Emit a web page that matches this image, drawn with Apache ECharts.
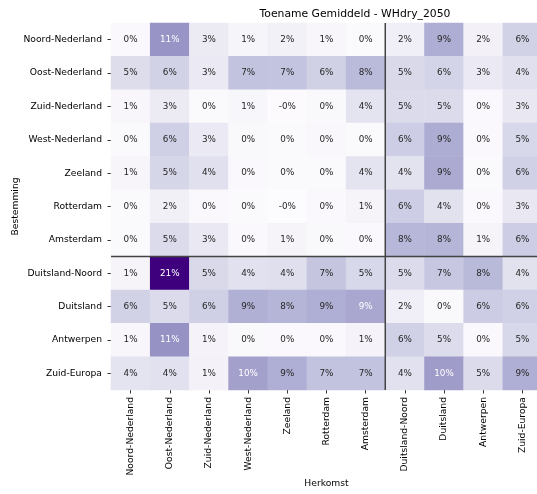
<!DOCTYPE html>
<html>
<head>
<meta charset="utf-8">
<script src="https://cdn.jsdelivr.net/npm/echarts@6/dist/echarts.min.js"></script>
<style>html,body{margin:0;padding:0;background:#fff;}#c{width:537px;height:494px;}</style>
</head>
<body>
<div id="c"></div>
<script>
// Herkomst (x) and Bestemming (y) categories
const herkomst = ['Noord-Nederland','Oost-Nederland','Zuid-Nederland','West-Nederland','Zeeland','Rotterdam','Amsterdam','Duitsland-Noord','Duitsland','Antwerpen','Zuid-Europa'];
const bestemming = ['Noord-Nederland','Oost-Nederland','Zuid-Nederland','West-Nederland','Zeeland','Rotterdam','Amsterdam','Duitsland-Noord','Duitsland','Antwerpen','Zuid-Europa'];

// Percent increase, one row per Bestemming
const rowNoordNederland  = [0.2, 11.0, 2.8, 0.9, 1.7, 0.6, 0.1, 2.1, 9.0, 1.6, 5.8];
const rowOostNederland   = [4.7, 5.8, 2.9, 7.2, 7.1, 5.9, 7.9, 5.2, 5.6, 2.9, 4.2];
const rowZuidNederland   = [0.6, 2.8, 0.1, 0.7, -0.2, 0.3, 3.8, 4.9, 4.9, 0.2, 3.1];
const rowWestNederland   = [0.1, 6.1, 2.9, 0.3, 0.1, 0.4, 0.1, 6.2, 9.1, 0.2, 5.3];
const rowZeeland         = [0.8, 5.4, 4.2, 0.2, 0.1, 0.1, 3.8, 3.9, 9.2, 0.1, 6.0];
const rowRotterdam       = [0.1, 1.8, 0.2, 0.1, -0.3, 0.2, 1.0, 6.2, 4.0, 0.2, 3.1];
const rowAmsterdam       = [0.1, 4.9, 3.0, 0.2, 1.0, 0.3, 0.2, 8.2, 8.4, 1.0, 6.2];
const rowDuitslandNoord  = [1.0, 21.2, 5.2, 4.1, 4.3, 7.0, 5.3, 5.0, 6.8, 8.0, 4.0];
const rowDuitsland       = [5.8, 5.0, 6.1, 8.8, 8.4, 8.9, 9.49, 2.2, 0.3, 6.3, 6.0];
const rowAntwerpen       = [0.6, 11.2, 1.2, 0.3, 0.2, 0.2, 1.2, 6.0, 4.8, 0.2, 5.3];
const rowZuidEuropa      = [3.8, 4.1, 1.4, 10.0, 8.9, 7.2, 7.2, 4.1, 10.3, 4.9, 8.9];

const rows = [rowNoordNederland,rowOostNederland,rowZuidNederland,rowWestNederland,rowZeeland,rowRotterdam,rowAmsterdam,rowDuitslandNoord,rowDuitsland,rowAntwerpen,rowZuidEuropa];
const splitAfter = 'Amsterdam';

const purples = ['#fcfbfd','#efedf5','#dadaeb','#bcbddc','#9e9ac8','#807dba','#6a51a3','#54278f','#3f007d'];

let vmin = Infinity, vmax = -Infinity;
rows.forEach(r => r.forEach(v => { vmin = Math.min(vmin, v); vmax = Math.max(vmax, v); }));

function hex(h){ return [1,3,5].map(i => parseInt(h.substr(i,2),16)); }
function colorAt(v){
  let f = (v - vmin) / (vmax - vmin); f = Math.max(0, Math.min(1, f));
  const p = f * (purples.length - 1); const i = Math.min(Math.floor(p), purples.length - 2); const t = p - i;
  const a = hex(purples[i]), b = hex(purples[i+1]);
  return a.map((c,k) => c + (b[k]-c)*t);
}
function lum(rgb){
  const l = rgb.map(c => { c = c/255; return c <= 0.03928 ? c/12.92 : Math.pow((c+0.055)/1.055, 2.4); });
  return 0.2126*l[0] + 0.7152*l[1] + 0.0722*l[2];
}

const data = [];
rows.forEach((r, yi) => r.forEach((v, xi) => {
  data.push({ value: [xi, yi, v], label: { color: lum(colorAt(v)) > 0.408 ? '#262626' : '#ffffff' } });
}));

const FONT = 'DejaVu Sans';
const chart = echarts.init(document.getElementById('c'), null, { renderer: 'canvas' });
const splitIdx = herkomst.indexOf(splitAfter);

chart.setOption({
  animation: false,
  backgroundColor: '#ffffff',
  title: {
    text: 'Toename Gemiddeld - WHdry_2050',
    left: 350, top: 4, textAlign: 'center',
    textStyle: { fontFamily: FONT, fontSize: 10.8, fontWeight: 'normal', color: '#000' }
  },
  grid: { left: 111, top: 23, width: 431, height: 367, containLabel: false, outerBoundsMode: 'none' },
  xAxis: {
    type: 'category', data: herkomst,
    name: 'Herkomst', nameLocation: 'middle', nameGap: 89, nameMoveOverlap: false,
    nameTextStyle: { fontFamily: FONT, fontSize: 9.2, color: '#000' },
    axisLine: { show: false },
    axisTick: { show: true, alignWithLabel: true, length: 3.5, lineStyle: { color: '#000', width: 0.8 } },
    axisLabel: { rotate: 90, margin: 7, fontFamily: FONT, fontSize: 9.2, color: '#000', interval: 0 },
    splitLine: { show: false }
  },
  yAxis: {
    type: 'category', data: bestemming, inverse: true,
    name: 'Bestemming', nameLocation: 'middle', nameGap: 91, nameMoveOverlap: false,
    nameTextStyle: { fontFamily: FONT, fontSize: 9.2, color: '#000' },
    axisLine: { show: false },
    axisTick: { show: true, alignWithLabel: true, length: 3.5, lineStyle: { color: '#000', width: 0.8 } },
    axisLabel: { margin: 9, fontFamily: FONT, fontSize: 9.2, color: '#000', interval: 0 },
    splitLine: { show: false }
  },
  visualMap: {
    show: false, type: 'continuous', seriesIndex: 0,
    min: vmin, max: vmax, dimension: 2,
    inRange: { color: purples }
  },
  series: [
    {
      type: 'heatmap', data: data,
      label: {
        show: true, fontFamily: FONT, fontSize: 8.8,
        formatter: p => p.value[2].toFixed(0) + '%'
      },
      itemStyle: { borderWidth: 0 },
      emphasis: { disabled: true }
    },
    {
      type: 'custom', silent: true, z: 5,
      data: [[splitIdx, splitIdx]],
      renderItem: function (params, api) {
        const c = api.coord([api.value(0), api.value(1)]);
        const s = api.size([1, 1]);
        const cs = params.coordSys;
        const x = c[0] + s[0] / 2, y = c[1] + s[1] / 2;
        const style = { stroke: '#444', lineWidth: 1.5 };
        return { type: 'group', children: [
          { type: 'line', shape: { x1: x, y1: cs.y, x2: x, y2: cs.y + cs.height }, style: style },
          { type: 'line', shape: { x1: cs.x, y1: y, x2: cs.x + cs.width, y2: y }, style: style }
        ]};
      }
    }
  ]
});
</script>
</body>
</html>
